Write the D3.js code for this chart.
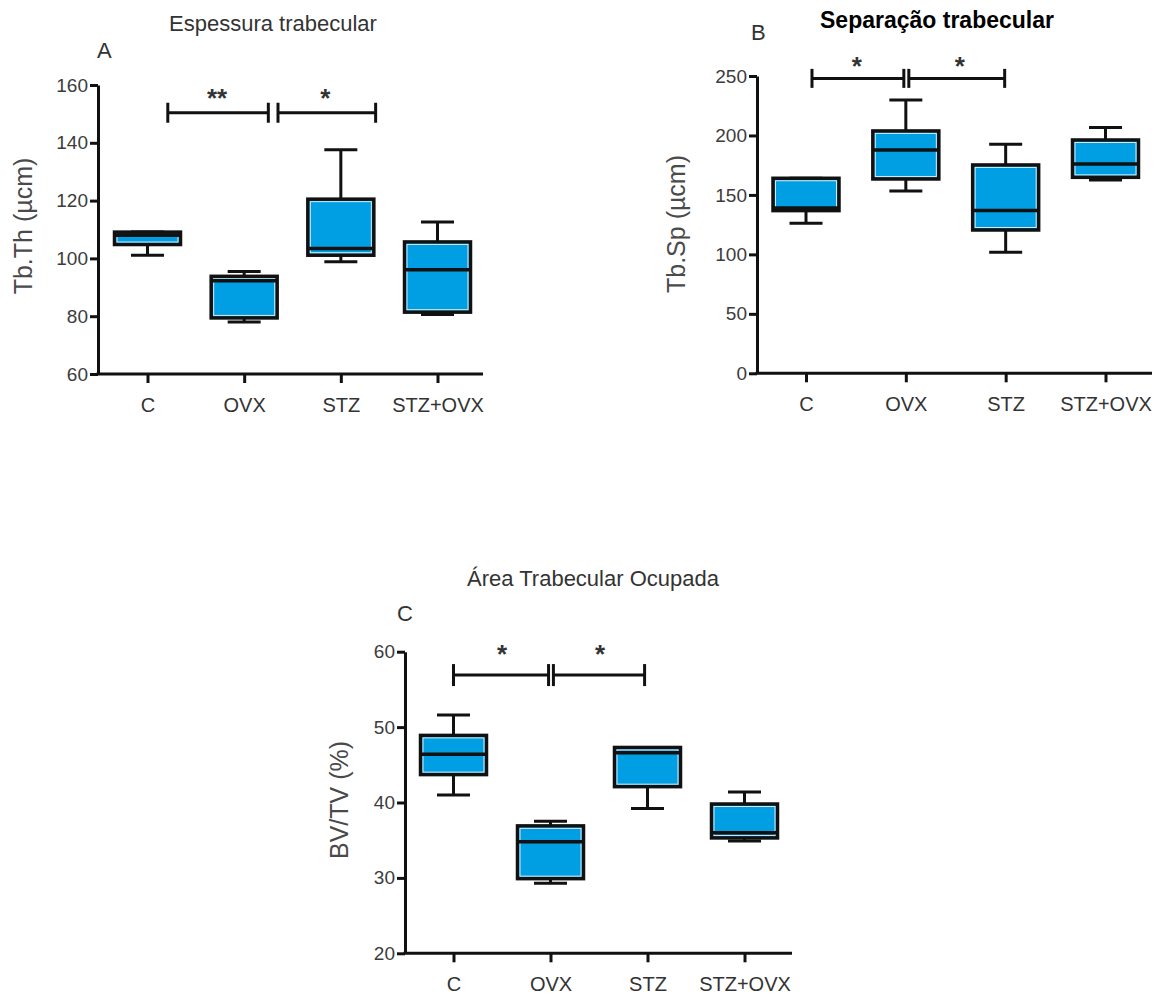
<!DOCTYPE html>
<html>
<head>
<meta charset="utf-8">
<script src="https://cdn.jsdelivr.net/npm/d3@7"></script>
<style>
  html, body { margin: 0; padding: 0; background: #fff; }
  svg { display: block; font-family: "Liberation Sans", Arial, sans-serif; }
</style>
</head>
<body>
<svg id="chart" width="1169" height="994"></svg>
<script>
// ---------- DATA ----------
const categories = ["C", "OVX", "STZ", "STZ+OVX"];

// Panel A: Tb.Th (µcm)
const tbThMin    = [101.1, 78.0, 98.8, 80.6];
const tbThQ1     = [104.8, 79.4, 101.1, 81.4];
const tbThMedian = [108.0, 92.3, 103.4, 96.1];
const tbThQ3     = [109.1, 93.8, 120.5, 105.7];
const tbThMax    = [109.1, 95.5, 137.6, 112.6];
const tbThTicks  = [60, 80, 100, 120, 140, 160];

// Panel B: Tb.Sp (µcm)
const tbSpMin    = [126.2, 153.3, 101.8, 162.6];
const tbSpQ1     = [136.8, 163.4, 120.5, 164.8];
const tbSpMedian = [139.0, 187.8, 136.8, 176.0];
const tbSpQ3     = [164.0, 203.8, 175.2, 196.2];
const tbSpMax    = [164.0, 229.9, 192.6, 206.6];
const tbSpTicks  = [0, 50, 100, 150, 200, 250];

// Panel C: BV/TV (%)
const bvtvMin    = [41.0, 29.3, 39.2, 34.9];
const bvtvQ1     = [43.7, 29.9, 42.1, 35.3];
const bvtvMedian = [46.4, 34.8, 46.6, 36.0];
const bvtvQ3     = [48.9, 36.9, 47.3, 39.8];
const bvtvMax    = [51.6, 37.5, 47.3, 41.4];
const bvtvTicks  = [20, 30, 40, 50, 60];

// significance brackets: [from index, to index], value, label
const sigA = [{ a: 0.21, b: 1.25, v: 150.4, s: "**", sx: 0.72 }, { a: 1.35, b: 2.36, v: 150.4, s: "*", sx: 1.84 }];
const sigB = [{ a: 0.06, b: 0.98, v: 248, s: "*", sx: 0.51 }, { a: 1.03, b: 1.99, v: 248, s: "*", sx: 1.54 }];
const sigC = [{ a: 0.0, b: 0.98, v: 56.9, s: "*", sx: 0.50 }, { a: 1.03, b: 1.97, v: 56.9, s: "*", sx: 1.51 }];

// ---------- DRAW ----------
const svg = d3.select("#chart");
const BLUE = "#009fe3";

function drawPanel(cfg) {
  const g = svg.append("g");
  const x = d3.scalePoint().domain(categories).range(cfg.xRange);
  const y = d3.scaleLinear().domain(cfg.yDomain).range(cfg.yRange);
  const step = x.step();
  const xi = i => x(categories[0]) + i * step;
  const y0 = y(cfg.yDomain[0]);

  // Y axis
  const ya = g.append("g")
    .attr("transform", `translate(${cfg.axisX},0)`)
    .call(d3.axisLeft(y).tickValues(cfg.ticks).tickSize(8).tickSizeOuter(0).tickPadding(2));
  ya.selectAll("path,line").attr("stroke", "#111").attr("stroke-width", 3);
  ya.selectAll("text").attr("font-size", 19).attr("fill", "#3c3c3c")
    .attr("font-family", "Liberation Sans, Arial, sans-serif");

  // X axis
  const xa = g.append("g")
    .attr("transform", `translate(0,${y0})`)
    .call(d3.axisBottom(x).tickSize(9).tickSizeOuter(0).tickPadding(15));
  xa.select(".domain").remove();
  xa.selectAll("line").attr("stroke", "#111").attr("stroke-width", 3);
  xa.selectAll("text").attr("font-size", 20).attr("fill", "#333")
    .attr("font-family", "Liberation Sans, Arial, sans-serif");
  g.append("line")
    .attr("x1", cfg.axisX - 1.5).attr("x2", cfg.xEnd)
    .attr("y1", y0).attr("y2", y0)
    .attr("stroke", "#111").attr("stroke-width", 3);

  const bw = 66, cw = 33;
  const boxes = categories.map((c, i) => ({
    c, min: cfg.min[i], q1: cfg.q1[i], med: cfg.med[i], q3: cfg.q3[i], max: cfg.max[i]
  }));
  const bg = g.selectAll(".box").data(boxes).enter().append("g");
  // whiskers
  bg.append("line").attr("x1", d => x(d.c)).attr("x2", d => x(d.c))
    .attr("y1", d => y(d.q3)).attr("y2", d => y(d.max))
    .attr("stroke", "#111").attr("stroke-width", 3);
  bg.append("line").attr("x1", d => x(d.c)).attr("x2", d => x(d.c))
    .attr("y1", d => y(d.q1)).attr("y2", d => y(d.min))
    .attr("stroke", "#111").attr("stroke-width", 3);
  bg.append("line").attr("x1", d => x(d.c) - cw / 2).attr("x2", d => x(d.c) + cw / 2)
    .attr("y1", d => y(d.max)).attr("y2", d => y(d.max))
    .attr("stroke", "#111").attr("stroke-width", 3);
  bg.append("line").attr("x1", d => x(d.c) - cw / 2).attr("x2", d => x(d.c) + cw / 2)
    .attr("y1", d => y(d.min)).attr("y2", d => y(d.min))
    .attr("stroke", "#111").attr("stroke-width", 3);
  // box
  bg.append("rect")
    .attr("x", d => x(d.c) - bw / 2).attr("width", bw)
    .attr("y", d => y(d.q3)).attr("height", d => y(d.q1) - y(d.q3))
    .attr("fill", BLUE).attr("stroke", "#111").attr("stroke-width", 3.5);
  // light inner edge
  bg.append("rect")
    .attr("x", d => x(d.c) - bw / 2 + 2.5).attr("width", bw - 5)
    .attr("y", d => y(d.q3) + 2.5).attr("height", d => Math.max(0, y(d.q1) - y(d.q3) - 5))
    .attr("fill", "none").attr("stroke", "#d9e8ee").attr("stroke-width", 1);
  // median
  bg.append("line").attr("x1", d => x(d.c) - bw / 2).attr("x2", d => x(d.c) + bw / 2)
    .attr("y1", d => y(d.med)).attr("y2", d => y(d.med))
    .attr("stroke", "#111").attr("stroke-width", 3.5);

  // significance brackets
  cfg.sig.forEach(s => {
    const yy = y(s.v);
    g.append("line").attr("x1", xi(s.a)).attr("x2", xi(s.b)).attr("y1", yy).attr("y2", yy)
      .attr("stroke", "#111").attr("stroke-width", 3);
    [s.a, s.b].forEach(p => {
      g.append("line").attr("x1", xi(p)).attr("x2", xi(p))
        .attr("y1", yy - cfg.capH).attr("y2", yy + cfg.capH)
        .attr("stroke", "#111").attr("stroke-width", 3);
    });
    g.append("text").attr("x", xi(s.sx)).attr("y", cfg.starY)
      .attr("text-anchor", "middle").attr("font-size", 26).attr("font-weight", "bold")
      .attr("fill", "#333").text(s.s);
  });

  // title
  g.append("text").attr("x", cfg.titleX).attr("y", cfg.titleY)
    .attr("text-anchor", "middle").attr("font-size", cfg.titleSize)
    .attr("font-weight", cfg.titleBold ? "bold" : "normal")
    .attr("fill", cfg.titleBold ? "#000" : "#333").text(cfg.title);
  // panel letter
  g.append("text").attr("x", cfg.letterX).attr("y", cfg.letterY)
    .attr("font-size", 22).attr("fill", "#333").text(cfg.letter);
  // y label
  g.append("text")
    .attr("transform", `translate(${cfg.ylabX},${cfg.ylabY}) rotate(-90)`)
    .attr("text-anchor", "middle").attr("font-size", 25).attr("fill", "#4a4a4a")
    .text(cfg.ylabel);
}

drawPanel({
  xRange: [147.5, 437.5], axisX: 98, xEnd: 483,
  yDomain: [60, 160], yRange: [374, 85], ticks: tbThTicks,
  min: tbThMin, q1: tbThQ1, med: tbThMedian, q3: tbThQ3, max: tbThMax,
  sig: sigA, capH: 10, starY: 107,
  title: "Espessura trabecular", titleX: 273, titleY: 31, titleSize: 22, titleBold: false,
  letter: "A", letterX: 97, letterY: 58,
  ylabel: "Tb.Th (µcm)", ylabX: 32, ylabY: 226
});

drawPanel({
  xRange: [806, 1105.5], axisX: 757, xEnd: 1152,
  yDomain: [0, 250], yRange: [373.3, 76], ticks: tbSpTicks,
  min: tbSpMin, q1: tbSpQ1, med: tbSpMedian, q3: tbSpQ3, max: tbSpMax,
  sig: sigB, capH: 9.5, starY: 75,
  title: "Separação trabecular", titleX: 937, titleY: 28, titleSize: 23, titleBold: true,
  letter: "B", letterX: 751, letterY: 40,
  ylabel: "Tb.Sp (µcm)", ylabX: 685, ylabY: 224
});

drawPanel({
  xRange: [453.5, 744.5], axisX: 405, xEnd: 792,
  yDomain: [20, 60], yRange: [953.3, 651.7], ticks: bvtvTicks,
  min: bvtvMin, q1: bvtvQ1, med: bvtvMedian, q3: bvtvQ3, max: bvtvMax,
  sig: sigC, capH: 11, starY: 663,
  title: "Área Trabecular Ocupada", titleX: 593, titleY: 586, titleSize: 22, titleBold: false,
  letter: "C", letterX: 397, letterY: 621,
  ylabel: "BV/TV (%)", ylabX: 348, ylabY: 800
});
</script>
</body>
</html>
